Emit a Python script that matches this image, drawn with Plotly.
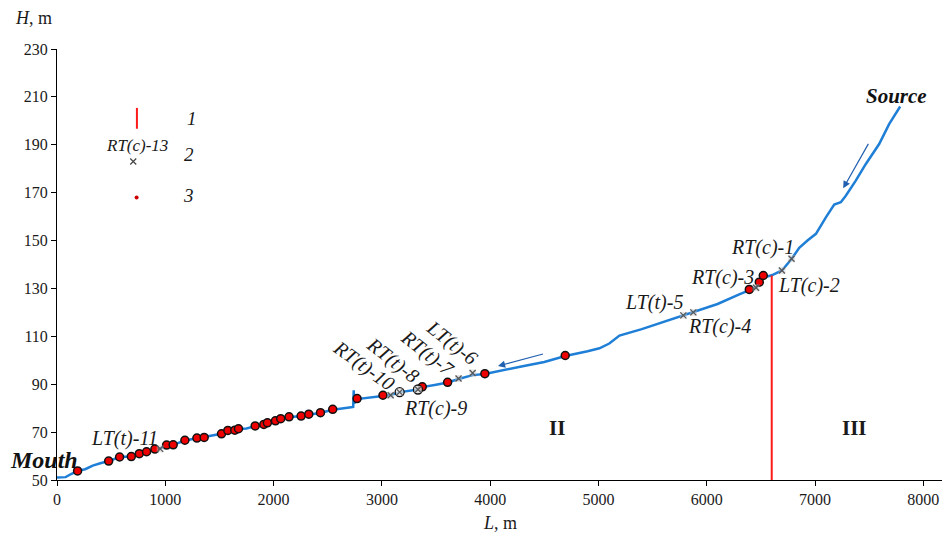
import plotly.graph_objects as go

# River longitudinal profile (L, m ; H, m)
profile_L = [0, 80, 130, 190, 260, 330, 400, 477, 578, 686, 760, 827, 904, 953, 1012, 1073,
             1181, 1292, 1359, 1450, 1519, 1578, 1642, 1676, 1750, 1830, 1910, 1943, 2017,
             2066, 2143, 2254, 2325, 2420, 2546, 2700, 2735, 2740, 2745, 2771, 2900, 3010,
             3081, 3164, 3185, 3333, 3373, 3500, 3607, 3708, 3838, 3951, 4100, 4300, 4500,
             4693, 4900, 5009, 5100, 5194, 5400, 5600, 5784, 5876, 6100, 6300, 6393, 6455,
             6485, 6522, 6600, 6694, 6783, 6854, 6930, 7008, 7100, 7177, 7238, 7284, 7376,
             7469, 7592, 7684, 7786]
profile_H = [51.0, 51.2, 52.5, 53.8, 54.5, 56.0, 57.0, 57.9, 59.6, 59.8, 61.0, 61.8, 62.9, 63.2,
             64.5, 64.7, 66.5, 67.4, 67.8, 68.5, 69.3, 70.6, 70.8, 71.3, 71.5, 72.5, 73.1, 73.8,
             74.6, 75.5, 76.3, 76.6, 77.4, 77.9, 79.3, 80.3, 80.5, 87.5, 82.0, 83.8, 84.5, 85.3,
             85.5, 86.6, 86.8, 87.8, 88.8, 89.8, 90.7, 92.2, 93.8, 94.3, 95.8, 97.5, 99.3,
             101.8, 103.8, 105.0, 107.0, 110.3, 113.0, 116.0, 118.7, 120.0, 123.5, 127.5, 129.4,
             130.4, 132.2, 134.5, 135.5, 137.5, 142.3, 147.0, 150.0, 152.8, 159.7, 165.0, 166.0,
             168.7, 175.0, 182.0, 190.3, 198.6, 206.0]

# Sampling points (3)
dots_L = [190, 477, 578, 686, 760, 827, 904, 1012, 1073, 1181, 1292, 1359, 1519, 1578, 1642,
          1676, 1830, 1910, 1943, 2017, 2066, 2143, 2254, 2325, 2433, 2546, 2771, 3010, 3373,
          3607, 3951, 4693, 6393, 6485, 6522]
dots_H = [53.8, 57.9, 59.6, 59.8, 61.0, 61.8, 62.9, 64.6, 64.7, 66.6, 67.5, 67.8, 69.3, 70.7,
          70.8, 71.4, 72.6, 73.2, 73.9, 74.7, 75.6, 76.4, 76.7, 77.5, 78.1, 79.5, 84.0, 85.4,
          88.9, 90.8, 94.4, 102.0, 129.6, 132.6, 135.4]

# Tributaries (2)
trib_L = [953, 3081, 3164, 3333, 3708, 3838, 5784, 5876, 6455, 6694, 6783]
trib_H = [63.0, 85.4, 86.7, 87.8, 92.4, 94.7, 118.75, 120.0, 130.3, 137.5, 142.4]
ring_L = [3164, 3333]
ring_H = [86.7, 87.8]

# Boundary between sections (1)
boundary_L = [6600, 6600]
boundary_H = [50, 135.4]

# Labels
labels = [
    ("LT(t)-11", 627, 67.5, 0),
    ("RT(c)-9", 3496, 80.0, 0),
    ("RT(t)-10", 2832, 97.9, 36),
    ("RT(t)-8", 3105, 100.0, 38),
    ("RT(t)-7", 3423, 102.9, 38),
    ("LT(t)-6", 3644, 107.5, 38),
    ("LT(t)-5", 5517, 124.3, 0),
    ("RT(c)-4", 6116, 114.0, 0),
    ("RT(c)-3", 6144, 134.6, 0),
    ("LT(c)-2", 6947, 131.25, 0),
    ("RT(c)-1", 6513, 147.3, 0),
]
sections = [("II", 4613, 71.7), ("III", 7362, 71.7)]

x_ticks = [0, 1000, 2000, 3000, 4000, 5000, 6000, 7000, 8000]
y_ticks = [50, 70, 90, 110, 130, 150, 170, 190, 210, 230]

SERIF = "Liberation Serif"
BLUE = "#1f7fd6"
TXT = "#1a1a1a"

fig = go.Figure()
fig.add_trace(go.Scatter(x=profile_L, y=profile_H, mode="lines",
                         line=dict(color=BLUE, width=2.5), hoverinfo="skip"))
fig.add_trace(go.Scatter(x=boundary_L, y=boundary_H, mode="lines",
                         line=dict(color="#ff1a1a", width=2)))
fig.add_trace(go.Scatter(x=dots_L, y=dots_H, mode="markers",
                         marker=dict(color="#ee0000", size=8, line=dict(color="#111111", width=1.5))))
fig.add_trace(go.Scatter(x=ring_L, y=ring_H, mode="markers",
                         marker=dict(symbol="circle", color="rgba(255,255,255,0.6)", size=9,
                                     line=dict(color="#111111", width=1.3))))
fig.add_trace(go.Scatter(x=trib_L, y=trib_H, mode="markers",
                         marker=dict(symbol="square", color="rgba(200,200,200,0.45)", size=7,
                                     line=dict(width=0))))
fig.add_trace(go.Scatter(x=trib_L, y=trib_H, mode="markers",
                         marker=dict(symbol="x-thin", color="#555555", size=6,
                                     line=dict(color="#555555", width=1.2))))

# legend samples
fig.add_trace(go.Scatter(x=[738, 738], y=[196.7, 205.4], mode="lines",
                         line=dict(color="#ff1a1a", width=2)))
fig.add_trace(go.Scatter(x=[704], y=[183], mode="markers",
                         marker=dict(symbol="x-thin", color="#444444", size=6,
                                     line=dict(color="#444444", width=1.2))))
fig.add_trace(go.Scatter(x=[735], y=[168], mode="markers",
                         marker=dict(color="#cc0000", size=4)))

ann = []
for t, x, y, ang in labels:
    ann.append(dict(x=x, y=y, xref="x", yref="y", text="<i>%s</i>" % t, showarrow=False,
                    textangle=ang, font=dict(family=SERIF, size=20, color=TXT)))
for t, x, y in sections:
    ann.append(dict(x=x, y=y, xref="x", yref="y", text="<b>%s</b>" % t, showarrow=False,
                    font=dict(family=SERIF, size=21, color=TXT)))
ann.append(dict(x=7749, y=210.4, xref="x", yref="y", text="<b><i>Source</i></b>", showarrow=False,
                font=dict(family=SERIF, size=21, color="#111111")))
ann.append(dict(x=0, y=58.3, xref="x", yref="y", text="<b><i>Mouth</i></b>", showarrow=False,
                xshift=-13, font=dict(family=SERIF, size=24, color="#111111")))
# legend texts
ann.append(dict(x=738, y=189.5, xref="x", yref="y", text="<i>RT(c)-13</i>", showarrow=False,
                font=dict(family=SERIF, size=17, color=TXT)))
for t, x, y in [("1", 1245, 200.8), ("2", 1218, 186), ("3", 1218, 168.75)]:
    ann.append(dict(x=x, y=y, xref="x", yref="y", text="<i>%s</i>" % t, showarrow=False,
                    font=dict(family=SERIF, size=19, color=TXT)))
# flow arrows
for (x0, y0, x1, y1) in [(7500, 191, 7260, 171.8), (4502, 102.8, 4072, 97.6)]:
    ann.append(dict(x=x1, y=y1, ax=x0, ay=y0, xref="x", yref="y", axref="x", ayref="y",
                    showarrow=True, arrowhead=2, arrowsize=1.2, arrowwidth=1.2,
                    arrowcolor="#1f5fb0", text=""))
# axis titles (paper coords relative to plot area)
ann.append(dict(x=-0.027, y=1.072, xref="paper", yref="paper", xanchor="center", yanchor="middle",
                text="<i>H</i>, m", showarrow=False, font=dict(family=SERIF, size=18, color=TXT)))
ann.append(dict(x=0.499, y=-0.10, xref="paper", yref="paper", xanchor="center", yanchor="middle",
                text="<i>L</i>, m", showarrow=False, font=dict(family=SERIF, size=18, color=TXT)))

fig.update_layout(
    width=942, height=531, showlegend=False,
    paper_bgcolor="white", plot_bgcolor="white",
    margin=dict(l=49, r=5, t=41, b=59),
    annotations=ann,
    xaxis=dict(range=[0, 8200], tickvals=x_ticks, ticktext=[str(v) for v in x_ticks],
               showgrid=False, zeroline=False, showline=True, linecolor="black", linewidth=1,
               ticks="outside", ticklen=5, tickcolor="black",
               tickfont=dict(family=SERIF, size=16, color=TXT)),
    yaxis=dict(range=[50, 230], tickvals=y_ticks, ticktext=[str(v) for v in y_ticks],
               showgrid=False, zeroline=False, showline=True, linecolor="black", linewidth=1,
               ticks="outside", ticklen=5, tickcolor="black",
               tickfont=dict(family=SERIF, size=16, color=TXT)),
)
fig.write_html("out.html")
